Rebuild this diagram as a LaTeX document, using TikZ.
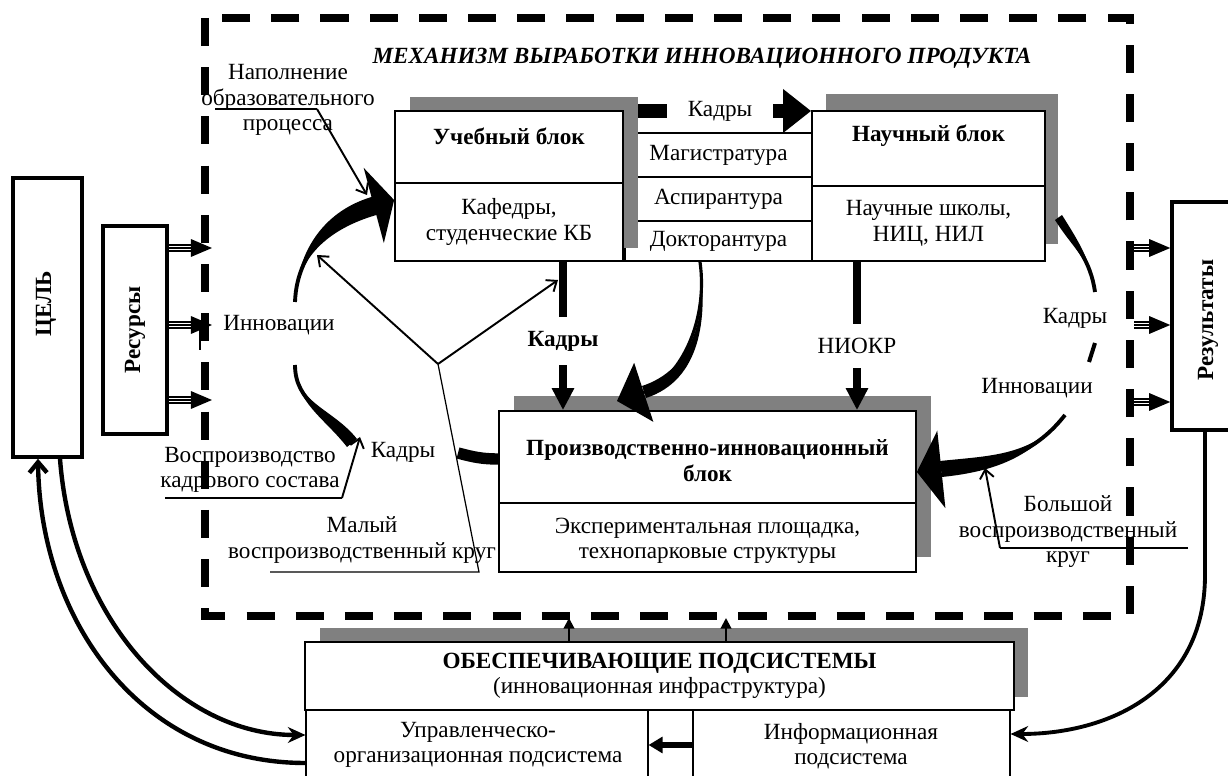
\documentclass[tikz,border=0pt]{standalone}
\usepackage{fontspec}
\setmainfont{Liberation Serif}
\usetikzlibrary{arrows.meta, positioning, fit}
\tikzset{
blok/.style={draw, line width=1pt, fill=white, inner sep=0pt}, % white box of a block
fatblok/.style={blok, line width=2pt}, % boxes on the sides
shadowbox/.style={fill=black!50, inner sep=0pt}, % grey shadow behind a block
txt/.style={font=\fontsize{13.2}{14.5}\selectfont, align=center, inner sep=1pt},
bold/.style={txt, font=\fontsize{13.2}{14.5}\selectfont\bfseries},
lead/.style={line width=1.1pt, -{Straight Barb[length=5pt,width=8pt]}}, % leader with open head
hair/.style={line width=0.7pt},
fat/.style={line width=4.2pt, -{Triangle[length=12.5pt,width=12pt]}},
tri/.style={double, double distance=2.6pt, line width=0.8pt}, % three-line shaft
dashframe/.style={line width=4.5pt, dash pattern=on 16pt off 12pt},
}

\begin{document}
\begin{tikzpicture}[x=0.02cm, y=-0.02cm]
\useasboundingbox (0,0) rectangle (1228,776);

% stack between the upper blocks
\node[blok, fit={(625,133) (812,177)}, label={[txt]center:Магистратура}] (mag) {};
\node[blok, fit={(625,177) (812,221)}, label={[txt]center:Аспирантура}] (asp) {};
\node[blok, fit={(625,221) (812,261)}, label={[txt]center:Докторантура}] (dok) {};

% shadows
\node[shadowbox, fit={(410,97) (638,248)}] (uchebSh) {};
\node[shadowbox, fit={(826,94) (1058,244)}] (naucSh) {};
\node[shadowbox, fit={(514,396) (931,557)}] (proizSh) {};
\node[shadowbox, fit={(320,628) (1028,697)}] (obSh) {};

% blocks
\node[blok, fit={(395,111) (623,183)}, label={[bold, yshift=6pt]center:Учебный блок}] (ucheb1) {};
\node[blok, fit={(395,183) (623,261)}, label={[txt]center:{Кафедры,\\студенческие КБ}}] (ucheb2) {};
\node[blok, fit={(812,111) (1045,186)}, label={[bold, yshift=7pt]center:Научный блок}] (nauc1) {};
\node[blok, fit={(812,186) (1045,261)}, label={[txt]center:{Научные школы,\\НИЦ, НИЛ}}] (nauc2) {};
\node[blok, fit={(499,411) (916,503)}, label={[bold, yshift=-2pt]center:{Производственно-инновационный\\блок}}] (proiz1) {};
\node[blok, fit={(499,503) (916,572)}, label={[txt, yshift=-2pt]center:{Экспериментальная площадка,\\технопарковые структуры}}] (proiz2) {};
\node[blok, fit={(305,642) (1014,710)}, label={[txt]center:{\textbf{ОБЕСПЕЧИВАЮЩИЕ ПОДСИСТЕМЫ}\\(инновационная инфраструктура)}}] (ob) {};
\node[blok, line width=0.6pt, fit={(306,710) (648,800)}] (upr) {};
\node[blok, line width=0.6pt, fit={(648,710) (693,800)}] (sep) {};
\node[blok, line width=0.6pt, fit={(693,710) (1010,800)}] (inf) {};
\node[txt] (uprT) at (478,745) {Управленческо-\\организационная подсистема};
\node[txt] (infT) at (851,746) {Информационная\\подсистема};

\node[fatblok, fit={(13,178) (82,457)}] (cel) {};
\node[bold, rotate=90] (celT) at (46,304) {ЦЕЛЬ};
\node[fatblok, fit={(103,226) (167,434)}, label={[bold, rotate=90]center:Ресурсы}] (res) {};
\node[fatblok, fit={(1172,202) (1250,430)}] (rez) {};
\node[bold, rotate=90] (rezT) at (1208,320) {Результаты};

% texts
\node[bold, font=\fontsize{13.2}{14.5}\selectfont\bfseries\itshape] (title) at (702,58) {МЕХАНИЗМ ВЫРАБОТКИ ИННОВАЦИОННОГО ПРОДУКТА};
\node[txt, minimum width=2.12cm, inner sep=0pt] (kadry1) at (720,111) {Кадры};
\node[bold, minimum height=0.96cm, inner sep=0pt] (kadry2) at (563,341) {Кадры};
\node[txt, minimum height=0.88cm, inner sep=0pt] (niokr) at (857,346) {НИОКР};
\node[txt] (innovL) at (279,325) {Инновации};
\node[txt] (kadryL) at (403,452) {Кадры};
\node[txt] (kadryR) at (1075,318) {Кадры};
\node[txt] (innovR) at (1037,388) {Инновации};
\node[txt] (napoln) at (288,100) {Наполнение\\образовательного\\процесса};
\node[txt] (vospr) at (250,470) {Воспроизводство\\кадрового состава};
\node[txt] (maly) at (362,540) {Малый\\воспроизводственный круг};
\node[txt] (bolsh) at (1068,532) {Большой\\воспроизводственный\\круг};

% free ends
\coordinate (yc) at (438,364);
\coordinate (smallA) at (295,302);
\coordinate (smallB) at (295,365);
\coordinate (smallC) at (352,443);
\coordinate (smallD) at (458,453);
\coordinate (bigA) at (1095,292);
\coordinate (bigB) at (1095,343);
\coordinate (bigC) at (1089,362);
\coordinate (bigD) at (1065,415);
\coordinate (stackEnd) at (617,401);

% flows between blocks
\draw[line width=8.5pt] (uchebSh.east |- kadry1) -- (kadry1.west);
\draw[line width=8.5pt, -{Triangle[length=16pt,width=24pt]}] (kadry1.east) -- (nauc1.west |- kadry1);
\draw[line width=4.2pt] (ucheb2.south -| kadry2) -- (kadry2.north);
\draw[fat] (kadry2.south) -- (proiz1.north -| kadry2);
\draw[line width=4.2pt] (nauc2.south -| niokr) -- (niokr.north);
\draw[fat] (niokr.south) -- (proiz1.north -| niokr);
\draw[line width=1.8pt, -{Triangle[length=16pt,width=35pt]}] (700,0 |- dok.south) to[out=-82,in=18] (stackEnd);
\fill (700,0 |- dok.south) to[out=-82,in=18] (642,386) -- (646,398) to[out=18,in=-82] (700,0 |- dok.south);

% small circle (lines thicken towards their ends)
\draw[line width=2.2pt, -{Triangle[length=12pt,width=44pt]}] (smallA) to[out=88,in=195] (ucheb2.west |- 0,200);
\fill (smallA) to[out=88,in=195] (375,196) -- (380,214) to[out=195,in=88] (smallA);
\draw[line width=2.2pt] (smallB) to[out=-90,in=128] (smallC);
\fill (smallB) to[out=-90,in=128] (347,447) -- (357,439) to[out=128,in=-90] (smallB);
\draw[line width=6.5pt] (proiz1.west |- 0,459) to[out=180,in=-15] (smallD);

% big circle
\draw[line width=2.2pt] (naucSh.east |- 0,218) to[out=-58,in=98] (bigA);
\fill (bigA) to[out=98,in=-58] (1055,220) -- (1062,215) to[out=-58,in=98] (bigA);
\draw[line width=2.3pt] (bigB) -- (bigC);
\draw[line width=2.2pt, -{Triangle[length=14pt,width=44pt]}] (bigD) to[out=-128,in=6] (proiz1.east |- 0,472);
\fill (bigD) to[out=-128,in=6] (940,461) -- (942,477) to[out=6,in=-128] (bigD);

% leaders
\draw[hair] (215,109) -- (317,109);
\draw[lead] (317,109) -- (367,195);
\draw[hair] (165,498) -- (342,498);
\draw[lead] (342,498) -- (360,437);
\draw[hair] (270,572) -- (479,572) -- (yc);
\draw[lead] (yc) -- (317,255);
\draw[lead] (yc) -- (558,280);
\draw[hair] (1188,548) -- (1000,548);
\draw[lead] (1000,548) -- (985,468);

% resources and results
\foreach \y in {248,325,400} {
  \draw[tri] (res.east |- 0,\y) -- (192,\y);
  \draw[line width=0.8pt, -{Triangle[length=12pt,width=10pt]}] (res.east |- 0,\y) -- (212,\y);
}
\draw[line width=0.6pt] (200,328) -- (200,350);
\foreach \y in {248,325,402} {
  \draw[tri] (1134,\y) -- (1154,\y);
  \draw[line width=0.8pt, -{Triangle[length=12pt,width=10pt]}] (1134,\y) -- (rez.west |- 0,\y);
}

% lower connections
\draw[line width=2.5pt, -{Stealth[length=10pt,width=9pt]}] (60,0 |- cel.south) .. controls (72,620) and (180,735) .. (upr.west |- 0,735);
\draw[line width=2.5pt, -{Straight Barb[length=6pt,width=10pt]}] (upr.west |- 0,763) .. controls (140,763) and (40,620) .. (38,0 |- cel.south);
\draw[line width=2.2pt, -{Stealth[length=10pt,width=9pt]}] (1205,0 |- rez.south) -- (1205,575) .. controls (1205,690) and (1110,734) .. (inf.east |- 0,734);
\foreach \x in {569,726}
  \draw[line width=1.2pt, -{Triangle[length=6pt,width=6pt]}] (ob.north -| \x,0) -- (\x,618);
\draw[line width=3pt, -{Triangle[length=8pt,width=9pt]}] (inf.west |- uprT) -- (upr.east |- uprT);

% frame
\draw[dashframe] (205,18) rectangle (1130,616);
\end{tikzpicture}
\end{document}
